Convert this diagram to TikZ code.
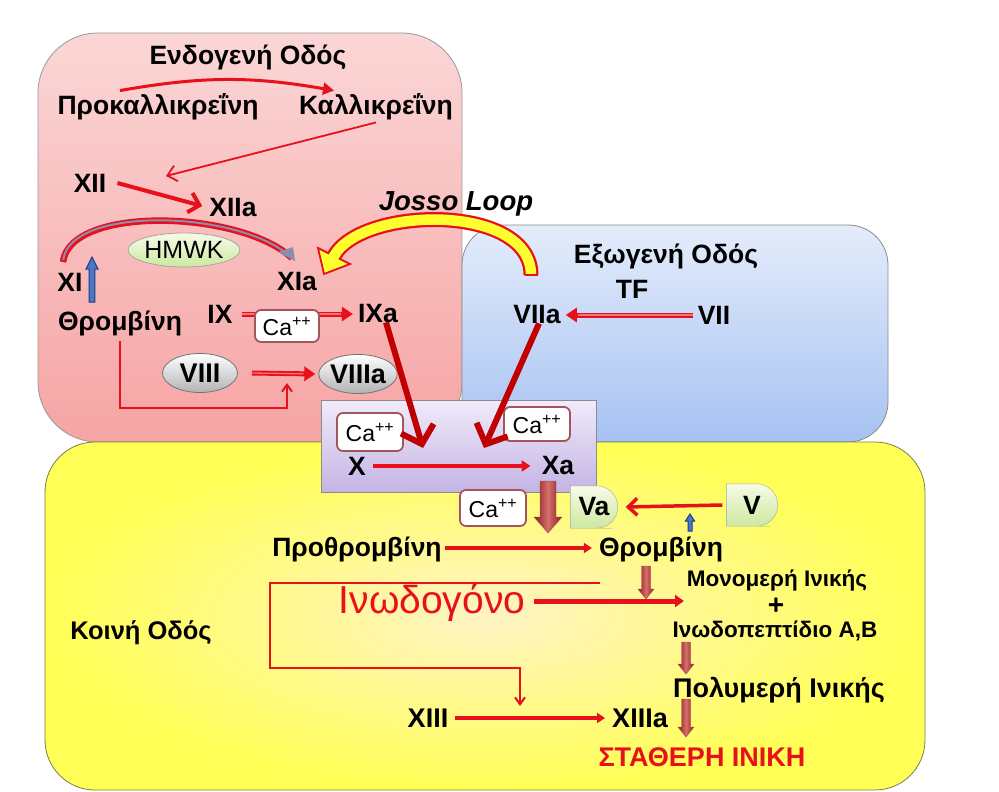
\documentclass[tikz,border=0pt]{standalone}
\usepackage{fontspec}
\setmainfont{Liberation Sans}
\usetikzlibrary{arrows.meta,shapes.geometric,calc}
\definecolor{arrred}{HTML}{E8101A}
\definecolor{dkred}{HTML}{C00000}
\definecolor{pinkT}{HTML}{FBD6D6}
\definecolor{pinkB}{HTML}{F6A4A4}
\definecolor{blueT}{HTML}{E4ECFB}
\definecolor{blueB}{HTML}{A6C2F2}
\definecolor{yelO}{HTML}{FFFF55}
\definecolor{yelI}{HTML}{FFF3C4}
\definecolor{purT}{HTML}{F1EBFA}
\definecolor{purB}{HTML}{C4B4E4}
\definecolor{caB}{HTML}{A4545C}
\definecolor{navy}{HTML}{1F3A80}
\definecolor{midblue}{HTML}{4A78C8}
\definecolor{brownA}{HTML}{8A1C1C}
\definecolor{brownB}{HTML}{D46E6C}
\definecolor{greenT}{HTML}{F6FCE6}
\definecolor{greenB}{HTML}{CDE8A0}
\definecolor{jyel}{HTML}{FFFF30}
\definecolor{arcin}{HTML}{8A8FB0}
% vertical block arrows: x, y top, y tip, shaft half width, head half width, head length
\newcommand\dnblock[6]{\path[brfill] ({#1-#4},#2) -- ({#1+#4},#2) -- ({#1+#4},{#3-#6}) -- ({#1+#5},{#3-#6}) -- (#1,#3) -- ({#1-#5},{#3-#6}) -- ({#1-#4},{#3-#6}) -- cycle;}
\newcommand\upblock[6]{\path[blfill] ({#1-#4},#2) -- ({#1+#4},#2) -- ({#1+#4},{#3+#6}) -- ({#1+#5},{#3+#6}) -- (#1,#3) -- ({#1-#5},{#3+#6}) -- ({#1-#4},{#3+#6}) -- cycle;}
\begin{document}
\begin{tikzpicture}[x=1pt,y=-1pt,
  lbl/.style={font=\bfseries\fontsize{26.5}{30}\selectfont, inner sep=1pt},
  cabox/.style={draw=caB, line width=1.8pt, rounded corners=6pt, fill=white, font=\fontsize{23}{25}\selectfont, minimum width=66pt, minimum height=34pt, inner sep=1pt},
  ell/.style={ellipse, draw=black!55, line width=0.8pt, top color=white, bottom color=black!30, minimum width=75pt, minimum height=39pt, inner sep=0pt, font=\bfseries\fontsize{27}{29}\selectfont},
  redarr/.style={draw=arrred, line width=3.5pt, -{Triangle[length=9pt,width=11pt]}},
  openarr/.style={draw=arrred, line width=3.5pt, -{Straight Barb[length=9pt,width=17pt]}},
  elbow/.style={draw=arrred, line width=2pt, -{Straight Barb[length=7pt,width=10pt]}},
  dblarr/.style={draw=arrred, line width=5pt, -{Triangle[length=11pt,width=14pt]}},
  dblin/.style={draw=pinkT!50!arrred, line width=1.3pt},
  bigarr/.style={draw=dkred, line width=6pt, -{Straight Barb[length=16pt,width=34pt]}},
  brfill/.style={left color=brownA, right color=brownA, middle color=brownB, draw=brownA!80, line width=0.4pt},
  blfill/.style={fill=midblue, draw=navy, line width=1pt},
]
\useasboundingbox (0,0) rectangle (999,792);
\fill[white] (0,0) rectangle (999,792);
% ---------- boxes ----------
\path[draw=black!40, line width=0.8pt, top color=pinkT, bottom color=pinkB, rounded corners=60pt] (38,33) rectangle (462,442);
\path[draw=black!45, line width=0.8pt, top color=blueT, bottom color=blueB, rounded corners=40pt] (462,225) rectangle (888,442);
\path[draw=black!40!yellow!70!black, line width=0.8pt, inner color=yelI, outer color=yelO, rounded corners=50pt] (45,442) rectangle (925,790);
\path[draw=black!45, line width=0.8pt, top color=purT, bottom color=purB] (321,400) rectangle (596,492);
% ---------- intrinsic ----------
\node[lbl] (endo) at (248,57) {Ενδογενή Οδός};
\node[lbl] (prok) at (158,107) {Προκαλλικρεΐνη};
\node[lbl] (kall) at (376,107) {Καλλικρεΐνη};
\node[lbl] (XII) at (90,183) {XII};
\node[lbl] (XIIa) at (233,208) {XIIa};
\node[font=\bfseries\itshape\fontsize{27.5}{30}\selectfont, inner sep=1pt] (josso) at (456,204) {Josso Loop};
\node[ell, top color=greenT, bottom color=greenB, draw=black!35, font=\fontsize{25}{27}\selectfont, minimum width=94pt, minimum height=34pt] (hmwk) at (184,250) {HMWK};
\node[lbl] (XI) at (70,282) {XI};
\node[lbl] (XIa) at (297,282) {XIa};
\node[lbl] (thr1) at (120,323) {Θρομβίνη};
\node[lbl] (IX) at (220,314) {IX};
\node[lbl] (IXa) at (378,314) {IXa};
\node[ell] (VIII) at (200,373) {VIII};
\node[ell] (VIIIa) at (358,374) {VIIIa};
\upblock{92}{302}{257}{2.8}{6}{12}
% arrows intrinsic
\draw[draw=arrred, line width=3pt, -{Triangle[length=11pt,width=12pt]}] ([xshift=-38pt,yshift=2pt]prok.north) to[bend left=10] ([xshift=-42pt,yshift=2pt]kall.north);
\coordinate (xiiend) at (166,176);
\draw[draw=arrred, line width=1.8pt, -{Straight Barb[length=9pt,width=16pt]}] ([yshift=-1pt]kall.south) -- (xiiend);
\draw[draw=arrred, line width=4pt, -{Straight Barb[length=10pt,width=20pt]}] ([xshift=10pt]XII.east) -- ([xshift=-6pt,yshift=2pt]XIIa.west);
% HMWK arc
\coordinate (arcS) at (63,262);
\coordinate (arcE) at (292,258);
\draw[draw=arrred, line width=6.5pt] (arcS) .. controls (70,205) and (240,210) .. (arcE);
\draw[draw=arcin, line width=2pt, shorten <=2pt, shorten >=1pt] (arcS) .. controls (70,205) and (240,210) .. (arcE);
\fill[arcin] (arcE) ++(-14,-6) -- (295,261) -- ++(-2,-14) -- cycle;
% Ca box + IX->IXa
\draw[dblarr] ([xshift=8pt]IX.east) -- ([xshift=-4pt]IXa.west);
\draw[dblin, shorten >=12pt] ([xshift=8pt]IX.east) -- ([xshift=-4pt]IXa.west);
\node[cabox, minimum width=64pt, minimum height=32pt] (ca1) at (287,326) {Ca\textsuperscript{++}};
% VIII -> VIIIa
\draw[dblarr] ([xshift=14pt]VIII.east) -- ([xshift=-3pt]VIIIa.west);
\draw[dblin, shorten >=12pt] ([xshift=14pt]VIII.east) -- ([xshift=-3pt]VIIIa.west);
% thrombin feedback
\coordinate (tb1) at (287,408);
\coordinate (tb2) at (287,383);
\draw[elbow] ([yshift=-4pt]thr1.south) |- (tb1) -- (tb2);
% ---------- extrinsic ----------
\node[lbl] (exo) at (666,256) {Εξωγενή Οδός};
\node[lbl] (TF) at (632,289) {TF};
\node[lbl] (VIIa) at (537,315) {VIIa};
\node[lbl] (VII) at (714,315) {VII};
\draw[dblarr] ([xshift=-4pt]VII.west) -- ([xshift=4pt]VIIa.east);
\draw[dblin, shorten >=12pt] ([xshift=-4pt]VII.west) -- ([xshift=4pt]VIIa.east);
% Josso loop block arrow
\coordinate (jT) at (531,275);
\coordinate (jB) at (334,256);
\coordinate (jTip) at (324,274);
\draw[draw=arrred, line width=15pt] (jT) .. controls (531,203) and (362,206) .. (jB);
\path[fill=jyel, draw=arrred, line width=1.8pt, line join=miter] (jTip) -- (350,264) -- (334,256) -- (318,248) -- cycle;
\draw[draw=jyel, line width=10.5pt] (jT) .. controls (531,203) and (362,206) .. (jB) -- ++(-1.5,3.5);
\draw[draw=arrred, line width=2pt] ([xshift=-6.5pt]jT) -- ([xshift=6.5pt]jT);
% ---------- Xase box ----------
\node[lbl] (X) at (357,466) {X};
\node[lbl] (Xa) at (558,466) {Xa};
\node[cabox, minimum height=38pt] (ca2) at (370,432) {Ca\textsuperscript{++}};
\node[cabox] (ca3) at (537,424) {Ca\textsuperscript{++}};
\draw[redarr] ([xshift=6pt]X.east) -- ([xshift=-10pt]Xa.west);
\coordinate (k1) at (423,448);
\coordinate (k2) at (484,448);
\draw[bigarr] ([xshift=8pt,yshift=2pt]IXa.south) -- (k1);
\draw[bigarr] ([xshift=2pt,yshift=2pt]VIIa.south) -- (k2);
% ---------- common ----------
\node[cabox, minimum height=36pt] (ca4) at (493,508) {Ca\textsuperscript{++}};
\dnblock{548}{481}{533}{8}{14}{16}
% Va / V shapes
\node[minimum width=47pt, minimum height=42pt, inner sep=0pt] (Va) at (594,507) {};
\node[minimum width=51pt, minimum height=42pt, inner sep=0pt] (V) at (752,505) {};
\path[draw=black!35, top color=greenT, bottom color=greenB] (Va.north west) -- ++(26,0) [rounded corners=21pt] -- (Va.north east) -- (Va.south east) -- ++(-26,0) [sharp corners] -- (Va.south west) -- cycle;
\path[draw=black!35, top color=greenT, bottom color=greenB] (V.north west) -- ++(28,0) [rounded corners=21pt] -- (V.north east) -- (V.south east) -- ++(-28,0) [sharp corners] -- (V.south west) -- cycle;
\node[lbl] (VaT) at (Va) {Va};
\node[lbl] (VT) at (V) {V};
\draw[openarr] ([xshift=-4pt]V.west) -- ([xshift=8pt]Va.east);
\upblock{690}{531}{514}{2}{4.5}{7}
\node[lbl] (proth) at (357,549) {Προθρομβίνη};
\node[lbl] (thr2) at (661,549) {Θρομβίνη};
\draw[draw=arrred, line width=4pt, -{Triangle[length=8pt,width=10pt]}] ([xshift=2pt,yshift=1pt]proth.east) -- ([xshift=-6pt,yshift=1pt]thr2.west);
\node[font=\fontsize{39}{42}\selectfont, text=arrred, inner sep=1pt] (fib) at (432,603) {Ινωδογόνο};
\node[font=\bfseries\fontsize{22.5}{25}\selectfont, inner sep=1pt] (mono) at (777,581) {Μονομερή Ινικής};
\node[font=\bfseries\fontsize{28}{30}\selectfont, inner sep=0pt] (plus) at (776,606) {+};
\node[font=\bfseries\fontsize{22.5}{25}\selectfont, inner sep=1pt] (pept) at (775,631) {Ινωδοπεπτίδιο Α,Β};
\coordinate (fibend) at (684,601);
\draw[draw=arrred, line width=5pt, -{Triangle[length=9pt,width=12pt]}] (fib.east |- fibend) ++(8,0) -- (fibend);
\dnblock{646}{566}{599}{4.5}{8}{10}
\dnblock{686}{642}{674}{4.5}{8}{10}
\node[font=\bfseries\fontsize{27}{30}\selectfont, inner sep=1pt] (poly) at (779,690) {Πολυμερή Ινικής};
\node[font=\bfseries\fontsize{27}{30}\selectfont, inner sep=1pt] (XIII) at (428,718) {XIII};
\node[font=\bfseries\fontsize{27}{30}\selectfont, inner sep=1pt] (XIIIa) at (640,718) {XIIIa};
\dnblock{686}{699}{737}{4.5}{8}{10}
\draw[draw=arrred, line width=4pt, -{Triangle[length=8pt,width=10pt]}] ([xshift=6pt]XIII.east) -- ([xshift=-6pt]XIIIa.west);
\node[font=\bfseries\fontsize{27}{30}\selectfont, text=arrred, inner sep=1pt] (stab) at (702,757) {ΣΤΑΘΕΡΗ ΙΝΙΚΗ};
\node[font=\bfseries\fontsize{25.5}{28}\selectfont, inner sep=1pt] (koini) at (141,633) {Κοινή Οδός};
% thrombin -> XIII elbow
\coordinate (e0) at (600,583);
\coordinate (e1) at (270,583);
\coordinate (e2) at (520,668);
\coordinate (e3) at (520,706);
\draw[elbow] (e0) -- (e1) |- (e2) -- (e3);
\end{tikzpicture}
\end{document}
